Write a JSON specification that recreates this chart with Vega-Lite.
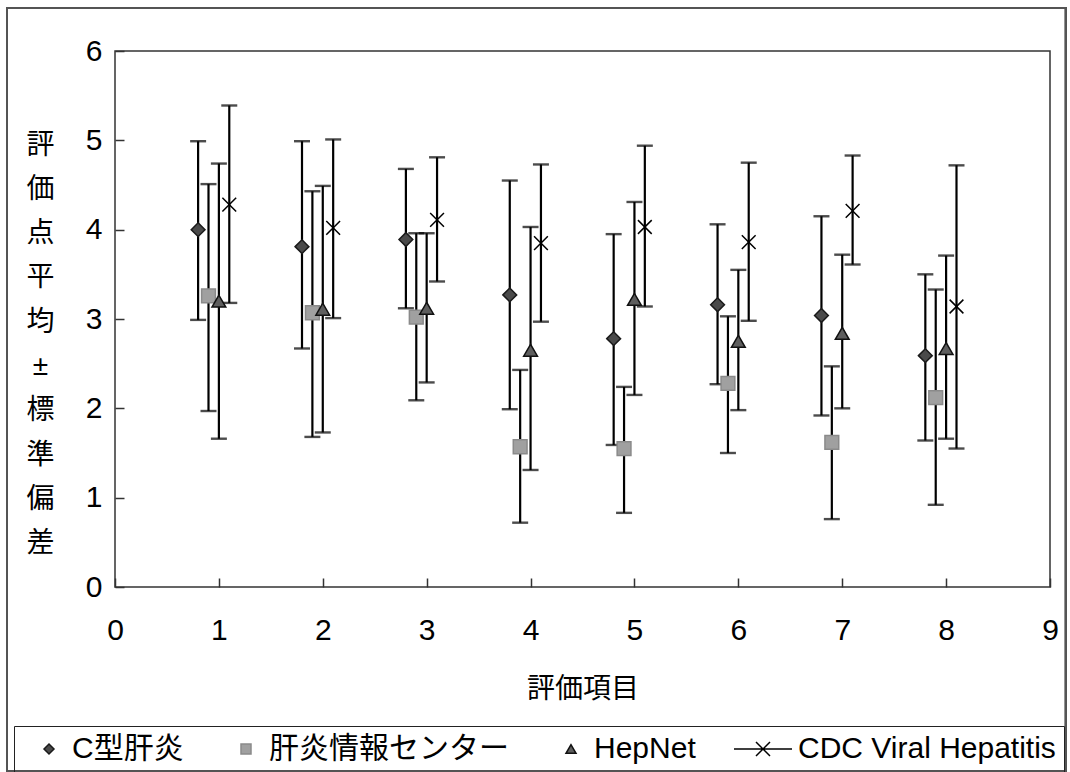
{
  "$schema": "https://vega.github.io/schema/vega-lite/v6.json",
  "width": 935,
  "height": 536,
  "autosize": "none",
  "padding": {"left": 115, "top": 51, "right": 20, "bottom": 185},
  "background": "white",
  "config": {
    "font": "Liberation Sans, Noto Sans CJK JP",
    "view": {"stroke": "#333333", "strokeWidth": 1.5},
    "axis": {"labelColor": "#000000", "titleColor": "#000000", "labelFont": "Liberation Sans, Noto Sans CJK JP", "titleFont": "Liberation Sans, Noto Sans CJK JP", "titleFontWeight": "normal"},
    "legend": {"labelFont": "Liberation Sans, Noto Sans CJK JP"}
  },
  "data": {
    "values": [
      {"item": 1, "series": "C型肝炎", "x": 0.8, "mean": 4.0, "lo": 2.99, "hi": 4.99},
      {"item": 1, "series": "肝炎情報センター", "x": 0.9, "mean": 3.26, "lo": 1.97, "hi": 4.51},
      {"item": 1, "series": "HepNet", "x": 1.0, "mean": 3.2, "lo": 1.66, "hi": 4.74},
      {"item": 1, "series": "CDC Viral Hepatitis", "x": 1.1, "mean": 4.28, "lo": 3.18, "hi": 5.39},
      {"item": 2, "series": "C型肝炎", "x": 1.8, "mean": 3.81, "lo": 2.67, "hi": 4.99},
      {"item": 2, "series": "肝炎情報センター", "x": 1.9, "mean": 3.07, "lo": 1.68, "hi": 4.43},
      {"item": 2, "series": "HepNet", "x": 2.0, "mean": 3.11, "lo": 1.73, "hi": 4.49},
      {"item": 2, "series": "CDC Viral Hepatitis", "x": 2.1, "mean": 4.02, "lo": 3.01, "hi": 5.01},
      {"item": 3, "series": "C型肝炎", "x": 2.8, "mean": 3.89, "lo": 3.12, "hi": 4.68},
      {"item": 3, "series": "肝炎情報センター", "x": 2.9, "mean": 3.02, "lo": 2.09, "hi": 3.96},
      {"item": 3, "series": "HepNet", "x": 3.0, "mean": 3.12, "lo": 2.29, "hi": 3.96},
      {"item": 3, "series": "CDC Viral Hepatitis", "x": 3.1, "mean": 4.11, "lo": 3.42, "hi": 4.81},
      {"item": 4, "series": "C型肝炎", "x": 3.8, "mean": 3.27, "lo": 1.99, "hi": 4.55},
      {"item": 4, "series": "肝炎情報センター", "x": 3.9, "mean": 1.57, "lo": 0.72, "hi": 2.43},
      {"item": 4, "series": "HepNet", "x": 4.0, "mean": 2.65, "lo": 1.31, "hi": 4.03},
      {"item": 4, "series": "CDC Viral Hepatitis", "x": 4.1, "mean": 3.85, "lo": 2.97, "hi": 4.73},
      {"item": 5, "series": "C型肝炎", "x": 4.8, "mean": 2.78, "lo": 1.59, "hi": 3.95},
      {"item": 5, "series": "肝炎情報センター", "x": 4.9, "mean": 1.55, "lo": 0.83, "hi": 2.24},
      {"item": 5, "series": "HepNet", "x": 5.0, "mean": 3.22, "lo": 2.15, "hi": 4.31},
      {"item": 5, "series": "CDC Viral Hepatitis", "x": 5.1, "mean": 4.03, "lo": 3.14, "hi": 4.94},
      {"item": 6, "series": "C型肝炎", "x": 5.8, "mean": 3.16, "lo": 2.27, "hi": 4.06},
      {"item": 6, "series": "肝炎情報センター", "x": 5.9, "mean": 2.28, "lo": 1.5, "hi": 3.03},
      {"item": 6, "series": "HepNet", "x": 6.0, "mean": 2.75, "lo": 1.98, "hi": 3.55},
      {"item": 6, "series": "CDC Viral Hepatitis", "x": 6.1, "mean": 3.86, "lo": 2.98, "hi": 4.75},
      {"item": 7, "series": "C型肝炎", "x": 6.8, "mean": 3.04, "lo": 1.92, "hi": 4.15},
      {"item": 7, "series": "肝炎情報センター", "x": 6.9, "mean": 1.62, "lo": 0.76, "hi": 2.47},
      {"item": 7, "series": "HepNet", "x": 7.0, "mean": 2.84, "lo": 2.0, "hi": 3.72},
      {"item": 7, "series": "CDC Viral Hepatitis", "x": 7.1, "mean": 4.21, "lo": 3.61, "hi": 4.83},
      {"item": 8, "series": "C型肝炎", "x": 7.8, "mean": 2.59, "lo": 1.64, "hi": 3.5},
      {"item": 8, "series": "肝炎情報センター", "x": 7.9, "mean": 2.12, "lo": 0.92, "hi": 3.33},
      {"item": 8, "series": "HepNet", "x": 8.0, "mean": 2.67, "lo": 1.66, "hi": 3.71},
      {"item": 8, "series": "CDC Viral Hepatitis", "x": 8.1, "mean": 3.14, "lo": 1.55, "hi": 4.72}
    ]
  },
  "encoding": {
    "x": {
      "field": "x", "type": "quantitative",
      "scale": {"domain": [0, 9], "nice": false, "zero": false},
      "axis": {
        "title": "評価項目", "values": [0,1,2,3,4,5,6,7,8,9], "format": "d",
        "grid": false, "domain": false, "tickSize": -9, "tickColor": "#333333", "tickWidth": 1.5,
        "labelFontSize": 30, "labelPadding": 37, "labelFlush": false,
        "titleFontSize": 28, "titleY": 102, "titleBaseline": "middle"
      }
    },
    "y": {
      "field": "mean", "type": "quantitative",
      "scale": {"domain": [0, 6], "nice": false},
      "axis": {
        "title": ["評","価","点","平","均","±","標","準","偏","差"],
        "values": [0,1,2,3,4,5,6], "format": "d",
        "grid": false, "domain": false, "tickSize": -9, "tickColor": "#333333", "tickWidth": 1.5,
        "labelFontSize": 30, "labelPadding": 22, "labelFlush": false,
        "titleFontSize": 28, "titleAngle": 0, "titleLineHeight": 44.3,
        "titleX": -75, "titleY": 94, "titleAlign": "center", "titleBaseline": "middle"
      }
    }
  },
  "layer": [
    {
      "mark": {"type": "rect", "fill": "transparent", "stroke": "#555555", "strokeWidth": 1.2, "clip": false},
      "encoding": {
        "x": {"datum": -1.04, "type": "quantitative"},
        "x2": {"datum": 9.15},
        "y": {"datum": 6.48, "type": "quantitative"},
        "y2": {"datum": -2.06}
      }
    },
    {
      "mark": {"type": "rule", "color": "#000000", "strokeWidth": 2.2},
      "encoding": {"y": {"field": "lo", "type": "quantitative"}, "y2": {"field": "hi"}}
    },
    {
      "mark": {"type": "tick", "orient": "horizontal", "color": "#000000", "thickness": 2.4, "size": 16},
      "encoding": {"y": {"field": "lo", "type": "quantitative"}}
    },
    {
      "mark": {"type": "tick", "orient": "horizontal", "color": "#000000", "thickness": 2.4, "size": 16},
      "encoding": {"y": {"field": "hi", "type": "quantitative"}}
    },
    {
      "mark": {"type": "point", "filled": true, "opacity": 1, "strokeWidth": 1.5},
      "encoding": {
        "shape": {"field": "series", "type": "nominal", "legend": null,
          "scale": {"domain": ["C型肝炎", "肝炎情報センター", "HepNet", "CDC Viral Hepatitis"],
                    "range": ["diamond", "square", "triangle-up", "M-1,-1L1,1M-1,1L1,-1"]}},
        "fill": {"field": "series", "type": "nominal", "legend": null,
          "scale": {"domain": ["C型肝炎", "肝炎情報センター", "HepNet", "CDC Viral Hepatitis"],
                    "range": ["#4a4a4a", "#a0a0a0", "#5e5e5e", "#000000"]}},
        "stroke": {"field": "series", "type": "nominal", "legend": null,
          "scale": {"domain": ["C型肝炎", "肝炎情報センター", "HepNet", "CDC Viral Hepatitis"],
                    "range": ["#1a1a1a", "#8a8a8a", "#111111", "#000000"]}},
        "size": {"value": 190}
      }
    },
    {
      "transform": [{"filter": "false"}],
      "mark": {"type": "point", "filled": true, "opacity": 1, "strokeWidth": 1.5},
      "encoding": {
        "shape": {"field": "series", "type": "nominal",
          "scale": {"domain": ["C型肝炎", "肝炎情報センター", "HepNet", "CDC Viral Hepatitis"],
                    "range": ["diamond", "square", "triangle-up", "M-8.2,0L3.4,0M-3.8,-1.4L-1,1.4M-3.8,1.4L-1,-1.4"]},
          "legend": {
            "title": null, "orient": "none", "direction": "horizontal",
            "legendX": -101, "legendY": 675,
            "strokeColor": "#222222", "padding": 8,
            "labelFontSize": 30, "labelOffset": 8, "columnPadding": 35, "symbolOffset": 12, "labelLimit": 500,
            "symbolSize": 100, "symbolStrokeWidth": 1.5
          }},
        "fill": {"field": "series", "type": "nominal",
          "scale": {"domain": ["C型肝炎", "肝炎情報センター", "HepNet", "CDC Viral Hepatitis"],
                    "range": ["#4a4a4a", "#a0a0a0", "#5e5e5e", "#000000"]}},
        "stroke": {"field": "series", "type": "nominal",
          "scale": {"domain": ["C型肝炎", "肝炎情報センター", "HepNet", "CDC Viral Hepatitis"],
                    "range": ["#1a1a1a", "#8a8a8a", "#111111", "#000000"]}}
      }
    }
  ],
  "resolve": {
    "scale": {"shape": "independent", "fill": "independent", "stroke": "independent"},
    "legend": {"shape": "independent", "fill": "independent", "stroke": "independent"}
  }
}
